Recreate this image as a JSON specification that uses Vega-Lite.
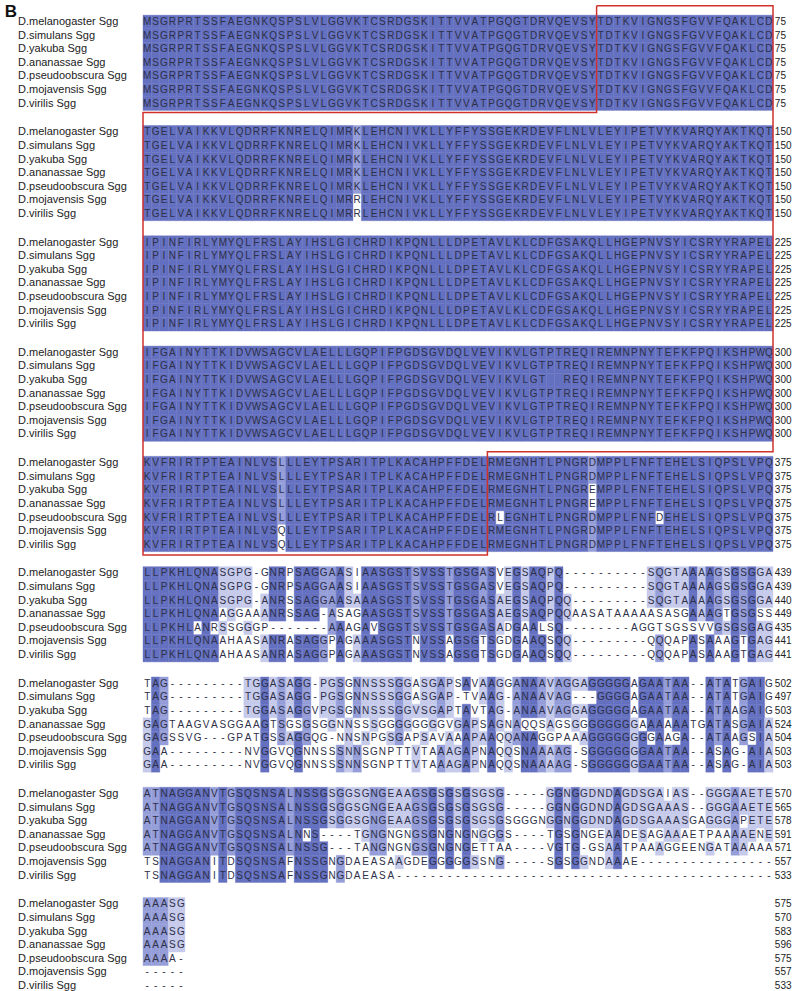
{
  "$schema": "https://vega.github.io/schema/vega-lite/v6.json",
  "width": 800,
  "height": 991,
  "autosize": {"type": "fit", "contains": "padding"},
  "padding": 0,
  "background": "white",
  "config": {"view": {"stroke": null}, "text": {"font": "Liberation Sans"}},
  "datasets": {
    "sp": [
      {"s": 0, "name": "D.melanogaster Sgg"},
      {"s": 1, "name": "D.simulans Sgg"},
      {"s": 2, "name": "D.yakuba Sgg"},
      {"s": 3, "name": "D.ananassae Sgg"},
      {"s": 4, "name": "D.pseudoobscura Sgg"},
      {"s": 5, "name": "D.mojavensis Sgg"},
      {"s": 6, "name": "D.virilis Sgg"}
    ],
    "box": [
      {"o": 1, "x": 54.5, "y": -1.2},
      {"o": 2, "x": 75.5, "y": -1.2},
      {"o": 3, "x": 75.5, "y": 31.6},
      {"o": 4, "x": 41.5, "y": 31.6},
      {"o": 5, "x": 41.5, "y": 39.2},
      {"o": 6, "x": 0.5, "y": 39.2},
      {"o": 7, "x": 0.5, "y": 6.65},
      {"o": 8, "x": 54.5, "y": 6.65},
      {"o": 9, "x": 54.5, "y": -1.2}
    ],
    "aln": [
      {"b": 1, "s": 0, "e": 75, "q": "MSGRPRTSSFAEGNKQSPSLVLGGVKTCSRDGSKITTVVATPGQGTDRVQEVSYTDTKVIGNGSFGVVFQAKLCD"},
      {"b": 1, "s": 1, "e": 75, "q": "MSGRPRTSSFAEGNKQSPSLVLGGVKTCSRDGSKITTVVATPGQGTDRVQEVSYTDTKVIGNGSFGVVFQAKLCD"},
      {"b": 1, "s": 2, "e": 75, "q": "MSGRPRTSSFAEGNKQSPSLVLGGVKTCSRDGSKITTVVATPGQGTDRVQEVSYTDTKVIGNGSFGVVFQAKLCD"},
      {"b": 1, "s": 3, "e": 75, "q": "MSGRPRTSSFAEGNKQSPSLVLGGVKTCSRDGSKITTVVATPGQGTDRVQEVSYTDTKVIGNGSFGVVFQAKLCD"},
      {"b": 1, "s": 4, "e": 75, "q": "MSGRPRTSSFAEGNKQSPSLVLGGVKTCSRDGSKITTVVATPGQGTDRVQEVSYTDTKVIGNGSFGVVFQAKLCD"},
      {"b": 1, "s": 5, "e": 75, "q": "MSGRPRTSSFAEGNKQSPSLVLGGVKTCSRDGSKITTVVATPGQGTDRVQEVSYTDTKVIGNGSFGVVFQAKLCD"},
      {"b": 1, "s": 6, "e": 75, "q": "MSGRPRTSSFAEGNKQSPSLVLGGVKTCSRDGSKITTVVATPGQGTDRVQEVSYTDTKVIGNGSFGVVFQAKLCD"},
      {"b": 2, "s": 0, "e": 150, "q": "TGELVAIKKVLQDRRFKNRELQIMRKLEHCNIVKLLYFFYSSGEKRDEVFLNLVLEYIPETVYKVARQYAKTKQT"},
      {"b": 2, "s": 1, "e": 150, "q": "TGELVAIKKVLQDRRFKNRELQIMRKLEHCNIVKLLYFFYSSGEKRDEVFLNLVLEYIPETVYKVARQYAKTKQT"},
      {"b": 2, "s": 2, "e": 150, "q": "TGELVAIKKVLQDRRFKNRELQIMRKLEHCNIVKLLYFFYSSGEKRDEVFLNLVLEYIPETVYKVARQYAKTKQT"},
      {"b": 2, "s": 3, "e": 150, "q": "TGELVAIKKVLQDRRFKNRELQIMRKLEHCNIVKLLYFFYSSGEKRDEVFLNLVLEYIPETVYKVARQYAKTKQT"},
      {"b": 2, "s": 4, "e": 150, "q": "TGELVAIKKVLQDRRFKNRELQIMRKLEHCNIVKLLYFFYSSGEKRDEVFLNLVLEYIPETVYKVARQYAKTKQT"},
      {"b": 2, "s": 5, "e": 150, "q": "TGELVAIKKVLQDRRFKNRELQIMRRLEHCNIVKLLYFFYSSGEKRDEVFLNLVLEYIPETVYKVARQYAKTKQT"},
      {"b": 2, "s": 6, "e": 150, "q": "TGELVAIKKVLQDRRFKNRELQIMRRLEHCNIVKLLYFFYSSGEKRDEVFLNLVLEYIPETVYKVARQYAKTKQT"},
      {"b": 3, "s": 0, "e": 225, "q": "IPINFIRLYMYQLFRSLAYIHSLGICHRDIKPQNLLLDPETAVLKLCDFGSAKQLLHGEPNVSYICSRYYRAPEL"},
      {"b": 3, "s": 1, "e": 225, "q": "IPINFIRLYMYQLFRSLAYIHSLGICHRDIKPQNLLLDPETAVLKLCDFGSAKQLLHGEPNVSYICSRYYRAPEL"},
      {"b": 3, "s": 2, "e": 225, "q": "IPINFIRLYMYQLFRSLAYIHSLGICHRDIKPQNLLLDPETAVLKLCDFGSAKQLLHGEPNVSYICSRYYRAPEL"},
      {"b": 3, "s": 3, "e": 225, "q": "IPINFIRLYMYQLFRSLAYIHSLGICHRDIKPQNLLLDPETAVLKLCDFGSAKQLLHGEPNVSYICSRYYRAPEL"},
      {"b": 3, "s": 4, "e": 225, "q": "IPINFIRLYMYQLFRSLAYIHSLGICHRDIKPQNLLLDPETAVLKLCDFGSAKQLLHGEPNVSYICSRYYRAPEL"},
      {"b": 3, "s": 5, "e": 225, "q": "IPINFIRLYMYQLFRSLAYIHSLGICHRDIKPQNLLLDPETAVLKLCDFGSAKQLLHGEPNVSYICSRYYRAPEL"},
      {"b": 3, "s": 6, "e": 225, "q": "IPINFIRLYMYQLFRSLAYIHSLGICHRDIKPQNLLLDPETAVLKLCDFGSAKQLLHGEPNVSYICSRYYRAPEL"},
      {"b": 4, "s": 0, "e": 300, "q": "IFGAINYTTKIDVWSAGCVLAELLLGQPIFPGDSGVDQLVEVIKVLGTPTREQIREMNPNYTEFKFPQIKSHPWQ"},
      {"b": 4, "s": 1, "e": 300, "q": "IFGAINYTTKIDVWSAGCVLAELLLGQPIFPGDSGVDQLVEVIKVLGTPTREQIREMNPNYTEFKFPQIKSHPWQ"},
      {"b": 4, "s": 2, "e": 300, "q": "IFGAINYTTKIDVWSAGCVLAELLLGQPIFPGDSGVDQLVEVIKVLGTptREQIREMNPNYTEFKFPQIKSHPWQ"},
      {"b": 4, "s": 3, "e": 300, "q": "IFGAINYTTKIDVWSAGCVLAELLLGQPIFPGDSGVDQLVEVIKVLGTPTREQIREMNPNYTEFKFPQIKSHPWQ"},
      {"b": 4, "s": 4, "e": 300, "q": "IFGAINYTTKIDVWSAGCVLAELLLGQPIFPGDSGVDQLVEVIKVLGTPTREQIREMNPNYTEFKFPQIKSHPWQ"},
      {"b": 4, "s": 5, "e": 300, "q": "IFGAINYTTKIDVWSAGCVLAELLLGQPIFPGDSGVDQLVEVIKVLGTPTREQIREMNPNYTEFKFPQIKSHPWQ"},
      {"b": 4, "s": 6, "e": 300, "q": "IFGAINYTTKIDVWSAGCVLAELLLGQPIFPGDSGVDQLVEVIKVLGTPTREQIREMNPNYTEFKFPQIKSHPWQ"},
      {"b": 5, "s": 0, "e": 375, "q": "KVFRIRTPTEAINLVSLLLEYTPSARITPLKACAHPFFDELRMEGNHTLPNGRDMPPLFNFTEHELSIQPSLVPQ"},
      {"b": 5, "s": 1, "e": 375, "q": "KVFRIRTPTEAINLVSLLLEYTPSARITPLKACAHPFFDELRMEGNHTLPNGRDMPPLFNFTEHELSIQPSLVPQ"},
      {"b": 5, "s": 2, "e": 375, "q": "KVFRIRTPTEAINLVSLLLEYTPSARITPLKACAHPFFDELRMEGNHTLPNGREMPPLFNFTEHELSIQPSLVPQ"},
      {"b": 5, "s": 3, "e": 375, "q": "KVFRIRTPTEAINLVSLLLEYTPSARITPLKACAHPFFDELRMEGNHTLPNGREMPPLFNFTEHELSIQPSLVPQ"},
      {"b": 5, "s": 4, "e": 375, "q": "KVFRIRTPTEAINLVSLLLEYTPSARITPLKACAHPFFDELRLEGNHTLPNGRDMPPLFNFDEHELSIQPSLVPQ"},
      {"b": 5, "s": 5, "e": 375, "q": "KVFRIRTPTEAINLVSQLLEYTPSARITPLKACAHPFFDELRMEGNHTLPNGRDMPPLFNFTEHELSIQPSLVPQ"},
      {"b": 5, "s": 6, "e": 375, "q": "KVFRIRTPTEAINLVSQLLEYTPSARITPLKACAHPFFDELRMEGNHTLPNGRDMPPLFNFTEHELSIQPSLVPQ"},
      {"b": 6, "s": 0, "e": 439, "q": "LLPKHLQNASGPG-GNRPSAGGAASIAASGSTSVSSTGSGASVEGSAQPQ----------SQGTAAAAGSGSGGA"},
      {"b": 6, "s": 1, "e": 439, "q": "LLPKHLQNASGPG-GNRPSAGGAASIAASGSTSVSSTGSGASVEGSAQPQ----------SQGTAAAAGSGSGGA"},
      {"b": 6, "s": 2, "e": 440, "q": "LLPKHLQNASGPG-ANRSSAGGAASAAASGSTSVSSTGSGASAEGSAQPQQ---------SQGTAAAAGSGSGGA"},
      {"b": 6, "s": 3, "e": 449, "q": "LLPKHLQNAAGGAAANRSSAG-ASAGAASGSTSVSSTGSGASAEGSAQPQQAASATAAAAASASGAAAGTGSGSS"},
      {"b": 6, "s": 4, "e": 435, "q": "LLPKHLANRSSGGGP-------AAAGAVSGSTSVSSTGSGASADGAALSQ--------AGGTSGSSVVGSGSGAG"},
      {"b": 6, "s": 5, "e": 441, "q": "LLPKHLQNAAHAASANRASAGGPAGAAASGSTNVSSAGSGTSGDGAAQSQQ---------QQQAPASAAAGTGAG"},
      {"b": 6, "s": 6, "e": 441, "q": "LLPKHLQNAAHAASANRASAGGPAGAAASGSTNVSSAGSGTSGDGAAQSQQ---------QQQAPASAAAGTGAG"},
      {"b": 7, "s": 0, "e": 502, "q": "TAG---------TGGASAGG-PGSGNNSSSGGASGAPSAVAAGGANAAVAGGAGGGGGAGAATAA--ATATGAIG"},
      {"b": 7, "s": 1, "e": 497, "q": "TAG---------TGGASAGG-PGSGNNSSSGGASGAP-TVAAG-ANAAVAG---GGGGAGAATAA--ATATGAIG"},
      {"b": 7, "s": 2, "e": 503, "q": "TAG---------TGGASAGGVPGSGNNSSSGGVSGAPTAVTAG-ANAAVAGGAGGGGGAGAATAA--ATAAGAIG"},
      {"b": 7, "s": 3, "e": 524, "q": "GAGTAAGVASGGAAGTSGSGSGGNNSSSGGGGGGGGVGAPSAGNAQQSAGSGGGGGGGGAAAAAATGATASGAIA"},
      {"b": 7, "s": 4, "e": 504, "q": "GAGSSVG---GPATGSSAGGQG-NNSNPGSGAPSAVAAAPAAQQANAGGPAAAGGGGGGGGAAGA--ATAAGSIA"},
      {"b": 7, "s": 5, "e": 503, "q": "GAA---------NVGGVQGNNSSSNNSGNPTTVTAAAGAPNAQQSNAAAAG-SGGGGGGGAATAA--ASAG-AIA"},
      {"b": 7, "s": 6, "e": 503, "q": "GAA---------NVGGVQGNNSSSNNSGNPTTVTAAAGAPNAQQSNAAAAG-SGGGGGGGAATAA--ASAG-AIA"},
      {"b": 8, "s": 0, "e": 570, "q": "ATNAGGANVTGSQSNSALNSSGSGGSGNGEAAGSGSGSGSGSG-----GGNGGDNDAGDSGAIAS--GGGAAETE"},
      {"b": 8, "s": 1, "e": 565, "q": "ATNAGGANVTGSQSNSALNSSGSGGSGNGEAAGSGSGSGSGSG-----GGNGGDNDAGDSGAAAS--GGGAAETE"},
      {"b": 8, "s": 2, "e": 578, "q": "ATNAGGANVTGSQSNSALNSSGSGGSGNGEAAGSGSGSGSGSGSGGGNGGNGGDNDAGDSGAAASGAGGGAPETE"},
      {"b": 8, "s": 3, "e": 591, "q": "ATNAGGANVTGSQSNSALNNS----TGNGNGNGSGNGNGNGGGS----TGSGNGEAADESAGAAAETPAAAAENE"},
      {"b": 8, "s": 4, "e": 571, "q": "ATNAGGANVTGSQSNSALNSSG---TANGNGNGSGNGNGETTAA----VGTG-GSAATPAAAGGEENGATAAAAA"},
      {"b": 8, "s": 5, "e": 557, "q": "TSNAGGANITDSQSNSAFNSSGNGDAEASAAGDEGGGGGSSNG-----SGSGGNDAAAE----------------"},
      {"b": 8, "s": 6, "e": 533, "q": "TSNAGGANITDSQSNSAFNSSGNGDAEASA---------------------------------------------"},
      {"b": 9, "s": 0, "e": 575, "q": "AAASG"},
      {"b": 9, "s": 1, "e": 570, "q": "AAASG"},
      {"b": 9, "s": 2, "e": 583, "q": "AAASG"},
      {"b": 9, "s": 3, "e": 596, "q": "AAASG"},
      {"b": 9, "s": 4, "e": 575, "q": "AAAA-"},
      {"b": 9, "s": 5, "e": 557, "q": "-----"},
      {"b": 9, "s": 6, "e": 533, "q": "-----"}
    ]
  },
  "layer": [
    {
      "data": {"name": "aln"},
      "transform": [
        {"calculate": "split(datum.q, '')", "as": "ch"},
        {"flatten": ["ch"]},
        {"window": [{"op": "row_number", "as": "col"}], "groupby": ["b", "s"]},
        {"calculate": "upper(datum.ch)", "as": "uc"},
        {"joinaggregate": [{"op": "count", "as": "n"}], "groupby": ["b", "col", "uc"]},
        {"calculate": "datum.uc == '-' ? 0 : datum.n", "as": "nr"},
        {"joinaggregate": [{"op": "max", "field": "nr", "as": "nmax"}], "groupby": ["b", "col"]},
        {"calculate": "datum.nr > 0 && datum.nr == datum.nmax ? (datum.nr >= 6 ? 3 : (datum.nr == 5 ? 2 : (datum.nr >= 3 ? 1 : 0))) : 0", "as": "lvl"},
        {"calculate": "datum.ch == datum.uc ? datum.ch : ''", "as": "t"},
        {"calculate": "(datum.b - 1) * 8.11 + datum.s", "as": "yy"},
        {"calculate": "datum.col - 0.5", "as": "x0"},
        {"calculate": "datum.col + 0.5", "as": "x1"},
        {"calculate": "datum.yy - 0.5", "as": "y0"},
        {"calculate": "datum.yy + 0.5", "as": "y1"}
      ],
      "layer": [
        {
          "transform": [{"filter": "datum.lvl > 0"}],
          "mark": {"type": "rect", "strokeWidth": 0.4},
          "encoding": {
            "x": {"field": "x0", "type": "quantitative", "scale": {"domain": [-16.524, 78.714], "nice": false, "zero": false}, "axis": null},
            "x2": {"field": "x1"},
            "y": {"field": "y0", "type": "quantitative", "scale": {"domain": [-1.618, 71.25], "nice": false, "zero": false, "reverse": true}, "axis": null},
            "y2": {"field": "y1"},
            "fill": {"field": "lvl", "type": "ordinal", "scale": {"domain": [1, 2, 3], "range": ["#c6caeb", "#959ed8", "#6470c0"]}, "legend": null},
            "stroke": {"field": "lvl", "type": "ordinal", "scale": {"domain": [1, 2, 3], "range": ["#c6caeb", "#959ed8", "#6470c0"]}, "legend": null}
          }
        },
        {
          "mark": {"type": "text", "fontSize": 10, "align": "center", "baseline": "middle", "color": "#2e3048"},
          "encoding": {
            "x": {"field": "col", "type": "quantitative"},
            "y": {"field": "yy", "type": "quantitative"},
            "text": {"field": "t"}
          }
        }
      ]
    },
    {
      "data": {"name": "aln"},
      "transform": [
        {"lookup": "s", "from": {"data": {"name": "sp"}, "key": "s", "fields": ["name"]}},
        {"calculate": "(datum.b - 1) * 8.11 + datum.s", "as": "yy"}
      ],
      "layer": [
        {
          "mark": {"type": "text", "fontSize": 11, "align": "left", "baseline": "middle", "color": "#222222"},
          "encoding": {
            "x": {"datum": -14.38, "type": "quantitative"},
            "y": {"field": "yy", "type": "quantitative"},
            "text": {"field": "name"}
          }
        },
        {
          "mark": {"type": "text", "fontSize": 10, "align": "left", "baseline": "middle", "color": "#222222"},
          "encoding": {
            "x": {"datum": 75.72, "type": "quantitative"},
            "y": {"field": "yy", "type": "quantitative"},
            "text": {"field": "e"}
          }
        }
      ]
    },
    {
      "data": {"name": "box"},
      "mark": {"type": "line", "color": "#d0312d", "strokeWidth": 1.5, "strokeJoin": "miter"},
      "encoding": {
        "x": {"field": "x", "type": "quantitative"},
        "y": {"field": "y", "type": "quantitative"},
        "order": {"field": "o", "type": "quantitative"}
      }
    },
    {
      "data": {"values": [{"t": "B"}]},
      "mark": {"type": "text", "fontSize": 17, "fontWeight": "bold", "align": "left", "baseline": "middle", "color": "#111111"},
      "encoding": {
        "x": {"datum": -15.95, "type": "quantitative"},
        "y": {"datum": -0.7, "type": "quantitative"},
        "text": {"field": "t"}
      }
    }
  ]
}
